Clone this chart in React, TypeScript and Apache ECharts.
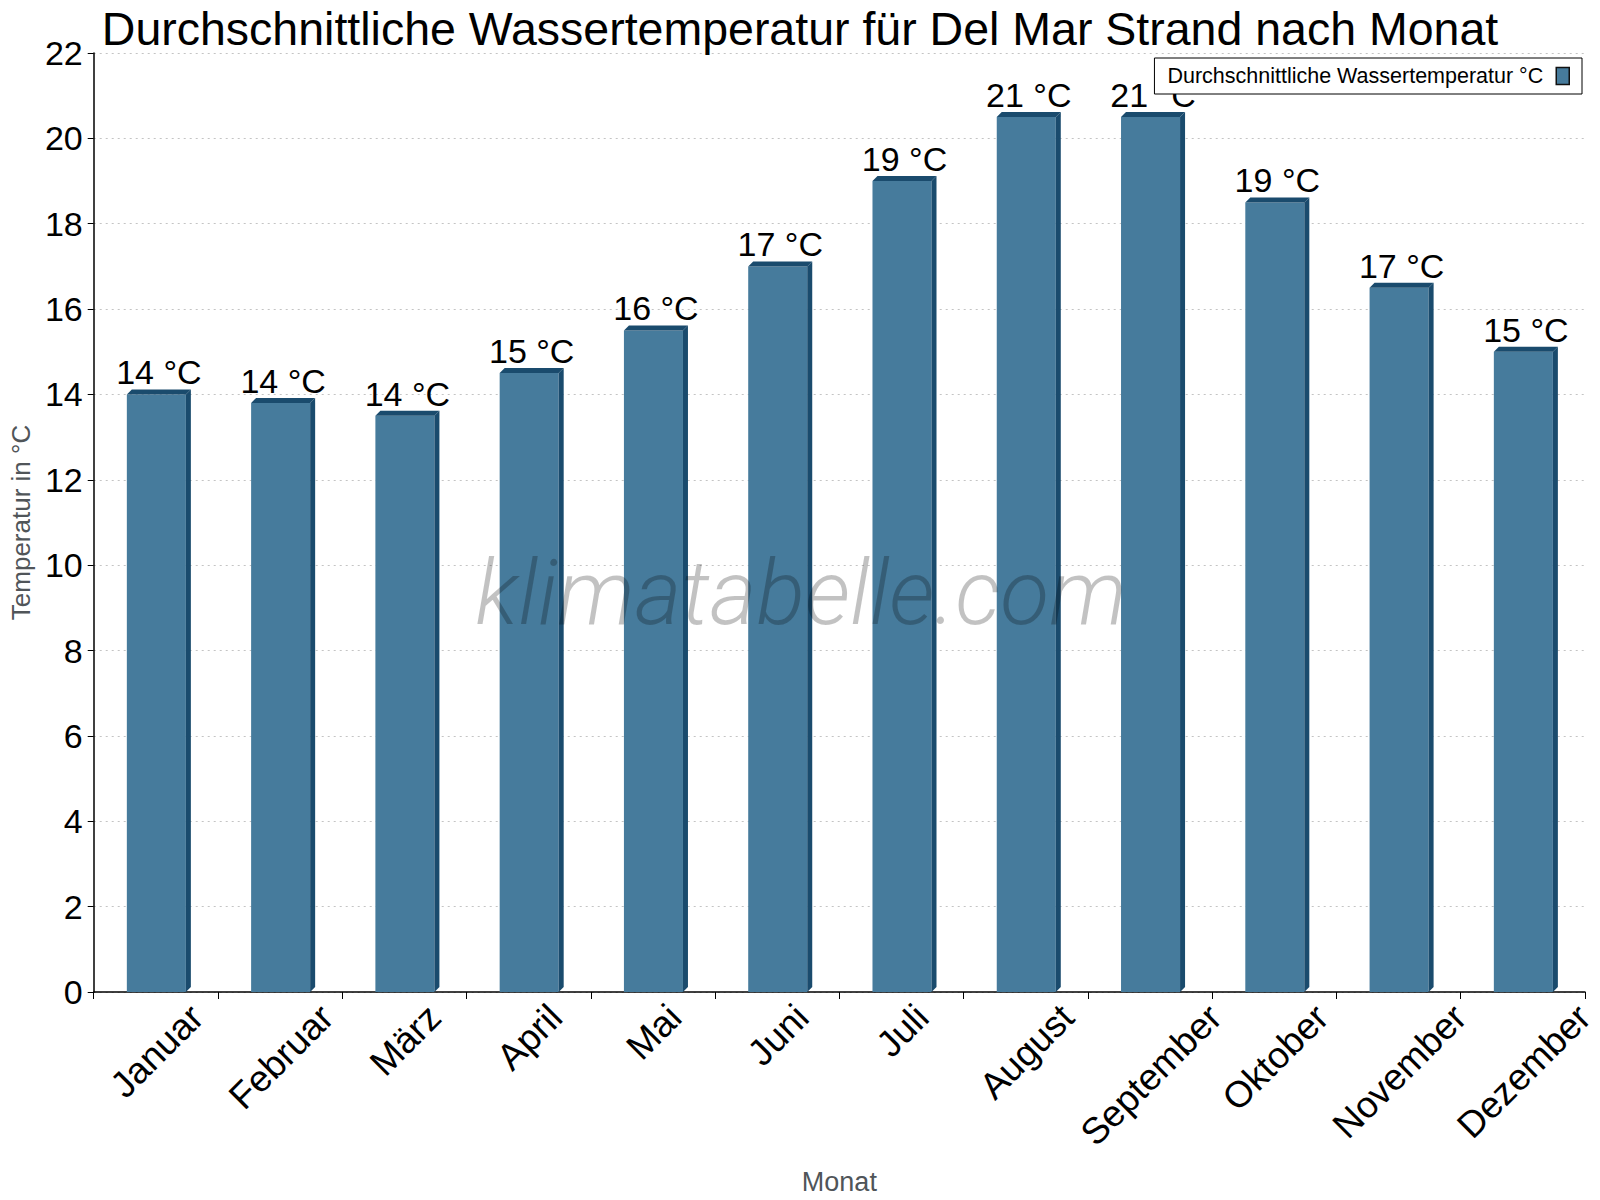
import React, { useEffect, useRef } from "react"
import * as echarts from "echarts"

const months = [
  "Januar", "Februar", "März", "April", "Mai", "Juni",
  "Juli", "August", "September", "Oktober", "November", "Dezember",
]
const waterTemps = [14.0, 13.8, 13.5, 14.5, 15.5, 17.0, 19.0, 20.5, 20.5, 18.5, 16.5, 15.0]
const yMin = 0
const yMax = 22
const yStep = 2

const seriesName = "Durchschnittliche Wassertemperatur °C"
const titleText = "Durchschnittliche Wassertemperatur für Del Mar Strand nach Monat"

const FONT = "'Liberation Sans', Arial, Helvetica, sans-serif"
const FRONT = "#467b9c"
const DARK = "#1a4b6d"
const DEPTH = 5
const MONTH_FONT_SIZE = 37

const measureText = (text: string, font: string) => {
  const ctx = document.createElement("canvas").getContext("2d")
  if (!ctx) return text.length * 20
  ctx.font = font
  return ctx.measureText(text).width
}

export default function App() {
  const chartRef = useRef<HTMLDivElement>(null)

  useEffect(() => {
    if (!chartRef.current) return
    const chart = echarts.init(chartRef.current, undefined, { renderer: "svg" })

    const monthWidths = months.map((m) => measureText(m, `${MONTH_FONT_SIZE}px ${FONT}`))

    // 3D-looking bar: front face, dark top and dark right side
    const renderItem = (params: any, api: any) => {
      const idx = api.value(0)
      const v = api.value(1)
      const top = api.coord([idx, v])
      const base = api.coord([idx, 0])
      const band = api.size([1, 0])[0]
      const fw = band * 0.475
      const x0 = top[0] - fw / 2 + 0.5
      const x1 = x0 + fw
      const yT = top[1]
      const yB = base[1]
      const L = monthWidths[params.dataIndex]
      return {
        type: "group",
        children: [
          {
            type: "rect",
            shape: { x: x0, y: yT, width: fw, height: yB - yT },
            style: { fill: FRONT },
          },
          {
            type: "polygon",
            shape: { points: [[x0, yT], [x0 + DEPTH, yT - DEPTH], [x1 + DEPTH, yT - DEPTH], [x1, yT]] },
            style: { fill: DARK },
          },
          {
            type: "polygon",
            shape: { points: [[x1, yT], [x1 + DEPTH, yT - DEPTH], [x1 + DEPTH, yB - DEPTH], [x1, yB]] },
            style: { fill: DARK },
          },
          {
            type: "text",
            x: (x0 + x1 + DEPTH) / 2,
            y: yT - DEPTH,
            style: {
              text: `${Math.round(v)} °C`,
              fill: "#000",
              fontSize: 34,
              fontFamily: FONT,
              align: "center",
              verticalAlign: "bottom",
            },
          },
          {
            // month label, rotated 45°, bounding box centred under the category
            type: "text",
            x: base[0] + 1,
            y: yB + 6 + 0.3535 * (L + MONTH_FONT_SIZE),
            rotation: Math.PI / 4,
            style: {
              text: months[params.dataIndex],
              fill: "#000",
              fontSize: MONTH_FONT_SIZE,
              fontFamily: FONT,
              align: "center",
              verticalAlign: "middle",
            },
          },
        ],
      }
    }

    chart.setOption({
      animation: false,
      backgroundColor: "#fff",
      title: {
        text: titleText,
        left: "center",
        top: 0,
        textStyle: { fontSize: 46.5, fontWeight: "normal", color: "#000", fontFamily: FONT },
      },
      legend: {
        data: [seriesName],
        right: 18,
        top: 58,
        align: "right",
        icon: "rect",
        itemWidth: 13,
        itemHeight: 17,
        padding: [7, 12, 7, 13],
        borderColor: "#000",
        borderWidth: 1,
        backgroundColor: "#fff",
        textStyle: { fontSize: 21.5, color: "#000", fontFamily: FONT, padding: [0, 8, 0, 0] },
        itemStyle: { color: FRONT, borderColor: "#111", borderWidth: 1.5 },
      },
      grid: { left: 84, right: 15, top: 53, bottom: 205, containLabel: false },
      xAxis: {
        type: "category",
        data: months,
        name: "Monat",
        nameLocation: "middle",
        nameGap: 176,
        nameTextStyle: { fontSize: 27, color: "#505559", fontFamily: FONT },
        axisLine: { lineStyle: { color: "#000", width: 1.5 } },
        axisTick: { show: true, length: 7, lineStyle: { color: "#000" } },
        axisLabel: { show: false },
        splitLine: { show: false },
      },
      yAxis: {
        type: "value",
        min: yMin,
        max: yMax,
        interval: yStep,
        name: "Temperatur in °C",
        nameLocation: "middle",
        nameGap: 50,
        nameTextStyle: { fontSize: 26, color: "#505559", fontFamily: FONT },
        axisLine: { show: true, lineStyle: { color: "#000", width: 1.5 } },
        axisTick: { show: true, length: 6, lineStyle: { color: "#000" } },
        axisLabel: { fontSize: 34, color: "#000", fontFamily: FONT, margin: 11 },
        splitLine: { show: true, lineStyle: { color: "#c4c4c4", type: [2, 4], width: 1 } },
      },
      series: [
        {
          name: seriesName,
          type: "custom",
          renderItem,
          encode: { x: 0, y: 1 },
          itemStyle: { color: FRONT },
          data: waterTemps.map((v, i) => [i, v]),
          clip: false,
          z: 2,
        },
      ],
      graphic: [
        {
          type: "text",
          x: 801,
          y: 593,
          z: 100,
          silent: true,
          style: {
            text: "klimatabelle.com",
            fill: "rgba(0,0,0,0.24)",
            fontSize: 90,
            fontFamily: "Roboto, 'Open Sans', sans-serif",
            fontWeight: 300,
            fontStyle: "italic",
            align: "center",
            verticalAlign: "middle",
          },
        },
      ],
    })

    return () => chart.dispose()
  }, [])

  return (
    <div
      ref={chartRef}
      style={{ position: "fixed", left: 0, top: 0, width: 1600, height: 1200, background: "#fff" }}
    />
  )
}
